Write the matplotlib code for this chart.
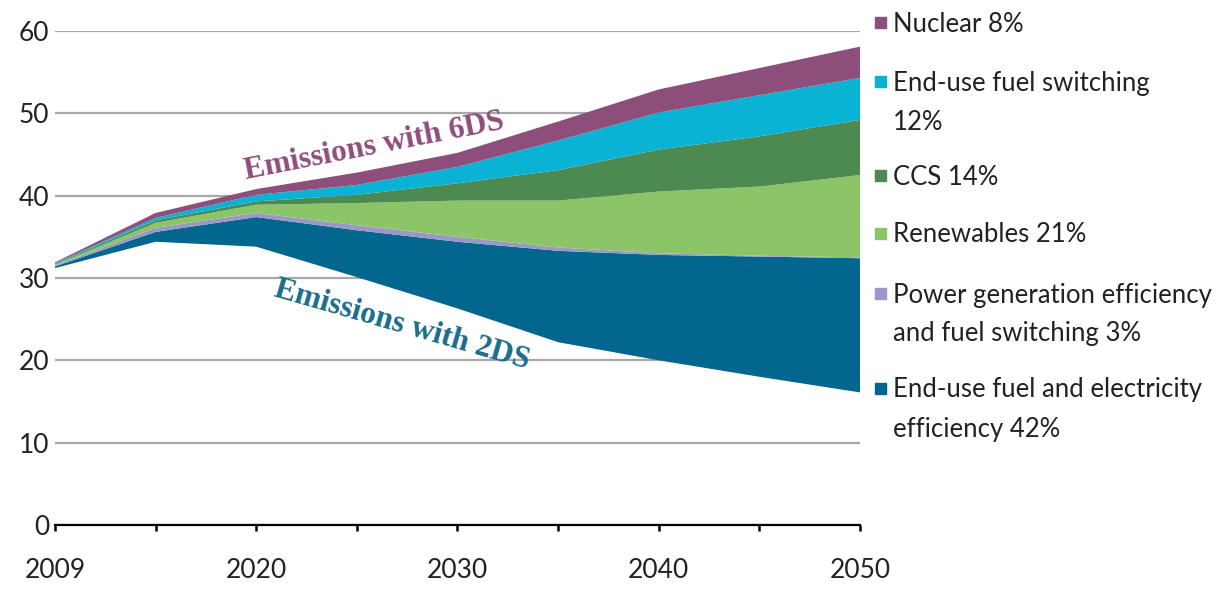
import matplotlib.pyplot as plt
from matplotlib.patches import Rectangle

# Years on the x axis (equally spaced steps of the source chart)
years = [2009, 2015, 2020, 2025, 2030, 2035, 2040, 2045, 2050]
year_labels = ["2009", "", "2020", "", "2030", "", "2040", "", "2050"]

# Emissions with 2DS (Gt CO2) - the bottom of the wedges
emissions_2ds = [31.2, 34.4, 33.8, 30.1, 26.3, 22.2, 20.0, 18.0, 16.1]

# Reduction wedges stacked on top of the 2DS line (Gt CO2)
enduse_efficiency = [0.2, 1.2, 3.6, 5.7, 8.1, 11.1, 12.8, 14.6, 16.3]
power_gen = [0.1, 0.5, 0.5, 0.6, 0.6, 0.4, 0.2, 0.1, 0.1]
renewables = [0.1, 0.6, 1.0, 2.7, 4.4, 5.7, 7.5, 8.4, 10.0]
ccs = [0.1, 0.3, 0.4, 1.0, 2.1, 3.7, 5.1, 6.1, 6.7]
fuel_switching = [0.1, 0.3, 0.8, 1.2, 2.0, 3.6, 4.5, 5.0, 5.1]
nuclear = [0.1, 0.6, 0.7, 1.5, 1.7, 2.3, 2.8, 3.3, 3.8]

legend_labels = ["Nuclear 8%", "End-use fuel switching\n12%", "CCS 14%",
                 "Renewables 21%", "Power generation efficiency\nand fuel switching 3%",
                 "End-use fuel and electricity\nefficiency 42%"]

c_nuc = "#8e4e7b"
c_fs = "#0ab2d3"
c_ccs = "#4c8a52"
c_ren = "#8cc468"
c_pg = "#9b98c7"
c_eff = "#03668e"

plt.rcParams['font.family'] = ['Lato', 'DejaVu Sans']

fig = plt.figure(figsize=(12.19, 5.89), dpi=100)
ax = fig.add_axes([0.0451, 0.1087, 0.6604, 0.8387])

x = list(range(len(years)))
polys = ax.stackplot(x, emissions_2ds, enduse_efficiency, power_gen, renewables, ccs,
                     fuel_switching, nuclear,
                     colors=["none", c_eff, c_pg, c_ren, c_ccs, c_fs, c_nuc],
                     linewidth=0, zorder=3)
polys[0].set_visible(False)

ax.set_xlim(0, 8)
ax.set_ylim(0, 60)
ax.set_yticks(range(0, 61, 10))
ax.yaxis.grid(True, color="#a8a8a8", linewidth=1.6, zorder=0)
ax.set_axisbelow(True)
ax.set_xticks(x)
ax.set_xticklabels(year_labels)

for s in ["top", "right", "left"]:
    ax.spines[s].set_visible(False)
ax.spines["bottom"].set_linewidth(1.6)
ax.spines["bottom"].set_zorder(5)
ax.tick_params(axis="y", length=0, pad=4, labelsize=19, labelcolor="#222222")
ax.tick_params(axis="x", length=4, width=1.8, direction="out", pad=20,
               labelsize=19, labelcolor="#222222")

ax.text(3.17, 46.0, "Emissions with 6DS", family="Liberation Serif", weight="bold",
        fontsize=22.5, color="#8e4e7b", rotation=11, ha="center", va="center",
        rotation_mode="anchor", zorder=6)
ax.text(3.45, 24.3, "Emissions with 2DS", family="Liberation Serif", weight="bold",
        fontsize=22.5, color="#1d6c8c", rotation=-16, ha="center", va="center",
        rotation_mode="anchor", zorder=6)

# hand-made legend on the right (pixel positions of the first line of each entry)
leg_colors = [c_nuc, c_fs, c_ccs, c_ren, c_pg, c_eff]
leg_y = [24, 83, 177, 235, 295, 390]
W, H = 1219.0, 589.0
for lab, col, yy in zip(legend_labels, leg_colors, leg_y):
    fig.add_artist(Rectangle((875 / W, 1 - (yy + 4) / H), 11 / W, 11 / H,
                             color=col, transform=fig.transFigure))
    for i, line in enumerate(lab.split("\n")):
        fig.text(893 / W, 1 - (yy + i * 39) / H, line, fontsize=18.5,
                 color="#222222", va="center", ha="left")

fig.savefig("out.png", dpi=100)
